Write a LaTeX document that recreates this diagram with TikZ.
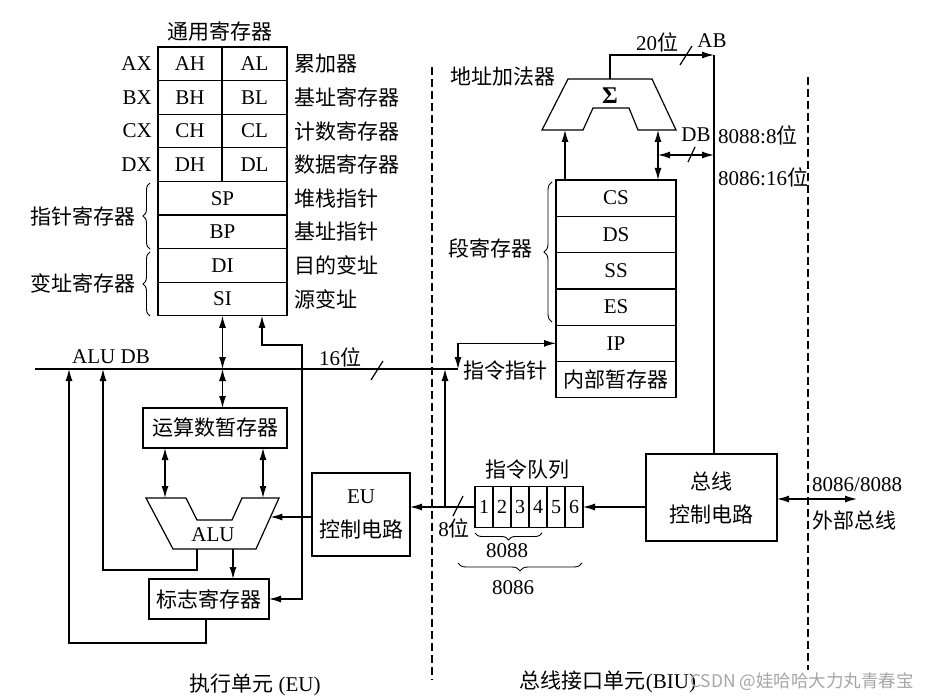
\documentclass[tikz,border=0pt]{standalone}
\usepackage{fontspec}
\setmainfont{Liberation Serif}
\newfontfamily\cjk{Noto Sans CJK SC}
\newcommand{\zh}[1]{{\cjk #1}}
\usetikzlibrary{arrows.meta,decorations.pathreplacing}
\begin{document}
\begin{tikzpicture}[x=1pt,y=-1pt,
  font=\fontsize{21}{24}\selectfont,
  ln/.style={line width=1.2pt},
  arr/.style={ln,-{Latex[length=12pt,width=7pt]}},
  darr/.style={ln,{Latex[length=12pt,width=7pt]}-{Latex[length=12pt,width=7pt]}},
  box/.style={draw,line width=1.2pt,inner sep=0pt,outer sep=0pt},
  cell/.style={box,minimum height=33.6pt},
  scell/.style={box,minimum height=36.3pt,minimum width=120pt},
  qcell/.style={box,minimum height=41pt,minimum width=18pt,font=\fontsize{20}{22}\selectfont},
  lab/.style={inner sep=0pt},
  brc/.style={decorate,decoration={brace,amplitude=#1},line width=0.9pt},
  dashln/.style={line width=1.2pt,dash pattern=on 8pt off 4pt},
  slashln/.style={line width=1.2pt}]
\fill[white] (0,0) rectangle (927,698);
\useasboundingbox (0,0) rectangle (927,698);

% dashed separators
\draw[dashln] (432,67) -- (432,680);
\draw[dashln] (808,77) -- (808,670);

% general registers
\node[lab] (tgen) at (220,32) {\zh{通用寄存器}};
\node[cell,minimum width=64pt] (AH) at (190,63.8) {AH};
\node[cell,minimum width=65pt] (AL) at (254.5,63.8) {AL};
\node[cell,minimum width=64pt] (BH) at (190,97.4) {BH};
\node[cell,minimum width=65pt] (BL) at (254.5,97.4) {BL};
\node[cell,minimum width=64pt] (CH) at (190,131) {CH};
\node[cell,minimum width=65pt] (CL) at (254.5,131) {CL};
\node[cell,minimum width=64pt] (DH) at (190,164.6) {DH};
\node[cell,minimum width=65pt] (DL) at (254.5,164.6) {DL};
\node[cell,minimum width=129pt] (SP) at (222.5,198.2) {SP};
\node[cell,minimum width=129pt] (BP) at (222.5,231.8) {BP};
\node[cell,minimum width=129pt] (DI) at (222.5,265.4) {DI};
\node[cell,minimum width=129pt] (SI) at (222.5,299) {SI};

\node[lab,anchor=east] (lAX) at (152,63.8) {AX};
\node[lab,anchor=east] (lBX) at (152,97.4) {BX};
\node[lab,anchor=east] (lCX) at (152,131) {CX};
\node[lab,anchor=east] (lDX) at (152,164.6) {DX};
\node[lab,anchor=west] (rAX) at (294,63.8) {\zh{累加器}};
\node[lab,anchor=west] (rBX) at (294,97.4) {\zh{基址寄存器}};
\node[lab,anchor=west] (rCX) at (294,131) {\zh{计数寄存器}};
\node[lab,anchor=west] (rDX) at (294,164.6) {\zh{数据寄存器}};
\node[lab,anchor=west] (rSP) at (294,198.2) {\zh{堆栈指针}};
\node[lab,anchor=west] (rBP) at (294,231.8) {\zh{基址指针}};
\node[lab,anchor=west] (rDI) at (294,265.4) {\zh{目的变址}};
\node[lab,anchor=west] (rSI) at (294,299) {\zh{源变址}};

\draw[brc=7pt] (150,249) -- (150,183);
\draw[brc=7pt] (150,316) -- (150,252);
\node[lab,anchor=east] (lptr) at (136,216) {\zh{指针寄存器}};
\node[lab,anchor=east] (lidx) at (136,283) {\zh{变址寄存器}};

% ALU data bus
\coordinate (busL) at (35,369);
\coordinate (busR) at (458,369);
\draw[ln] (busL) -- (busR);
\node[lab] (aludb) at (111,357) {ALU DB};
\node[lab] (b16) at (340,357) {16\zh{位}};
\draw[slashln] (371,380) -- (383,361);

% EU internals
\node[box,minimum width=144pt,minimum height=40pt] (opnd) at (215,428) {\zh{运算数暂存器}};
\node[box,minimum width=120pt,minimum height=40pt] (flag) at (209,599) {\zh{标志寄存器}};
\draw[darr] (SI.south) -- (SI.south |- busL);
\draw[darr] (SI.south |- busL) -- (SI.south |- opnd.north);
\draw[darr] ([xshift=39.5pt]SI.south) |- (302,345) |- (flag.east);

% ALU shape
\coordinate (a1) at (146,498);
\coordinate (a2) at (186,498);
\coordinate (a3) at (197,520);
\coordinate (a4) at (232,520);
\coordinate (a5) at (242,498);
\coordinate (a6) at (279,498);
\coordinate (a7) at (256,549);
\coordinate (a8) at (173,549);
\draw[ln,line join=miter] (a1) -- (a2) -- (a3) -- (a4) -- (a5) -- (a6) -- (a7) -- (a8) -- cycle;
\node[lab] (alu) at (213,535) {ALU};
\draw[darr] (opnd.south -| 165,0) -- (165,498);
\draw[darr] (opnd.south -| 263,0) -- (263,498);
\draw[arr] (233,549) -- (flag.north -| 233,0);
\draw[arr] (197,549) |- (103,570) -- (103,369);
\draw[arr] (flag.south -| 206,0) |- (69,643) -- (69,369);

% EU control
\node[box,minimum width=98pt,minimum height=83pt,align=center,font=\fontsize{21}{34}\selectfont] (euc) at (361,514.5) {EU\\\zh{控制电路}};
\coordinate (aluR) at (270.4,517);
\draw[arr] ([yshift=-2.5pt]euc.west) -- (aluR);

% instruction queue
\node[lab] (tq) at (527,470) {\zh{指令队列}};
\node[qcell] (q1) at (484,507) {1};
\node[qcell] (q2) at (502,507) {2};
\node[qcell] (q3) at (520,507) {3};
\node[qcell] (q4) at (538,507) {4};
\node[qcell] (q5) at (556,507) {5};
\node[qcell] (q6) at (574,507) {6};
\draw[arr] (q1.west) -- (euc.east |- q1.west);
\coordinate (qj) at (445,507);
\draw[arr] (qj) -- (qj |- busL);
\draw[slashln] (453,516) -- (463,496);
\node[lab] (b8) at (454,528) {8\zh{位}};
\draw[brc=7pt] (542,533) -- (475,533);
\node[lab] (l8088) at (507,551) {8088};
\draw[brc=8pt] (582,563) -- (458,563);
\node[lab] (l8086) at (513,588) {8086};

% segment registers
\node[scell] (CS) at (616,198.15) {CS};
\node[scell] (DS) at (616,234.45) {DS};
\node[scell] (SS) at (616,270.75) {SS};
\node[scell] (ES) at (616,307.05) {ES};
\node[scell] (IP) at (616,343.35) {IP};
\node[scell] (tmp) at (616,379.65) {\zh{内部暂存器}};
\draw[brc=8pt] (552,322) -- (552,182);
\node[lab,anchor=east] (lseg) at (533,248) {\zh{段寄存器}};
\node[lab] (lip) at (505,371) {\zh{指令指针}};
\draw[darr] (busR) |- (IP.west);

% address adder
\coordinate (s1) at (568,79);
\coordinate (s2) at (652,79);
\coordinate (s3) at (676,130);
\coordinate (s4) at (638,130);
\coordinate (s5) at (629,108);
\coordinate (s6) at (593,108);
\coordinate (s7) at (583,130);
\coordinate (s8) at (542,130);
\draw[ln,line join=miter] (s1) -- (s2) -- (s3) -- (s4) -- (s5) -- (s6) -- (s7) -- (s8) -- cycle;
\node[lab,font=\fontsize{24}{24}\selectfont\bfseries] (sig) at (610,96) {Σ};
\node[lab] (ladd) at (503,77) {\zh{地址加法器}};
\draw[arr] ([xshift=-51pt]CS.north) -- ++(0,-50);
\draw[darr] ([xshift=42pt]CS.north) -- ++(0,-50);
\coordinate (dbj) at (658,155);
\coordinate (dbR) at (714,155);
\draw[darr] (dbj) -- (dbR);
\draw[slashln] (688,162) -- (695,147);
\node[lab] (ldb) at (696,135) {DB};
\node[lab,anchor=west] (l88) at (718,135) {8088:8\zh{位}};
\node[lab,anchor=west] (l86) at (718,177) {8086:16\zh{位}};

% bus control
\node[box,minimum width=131pt,minimum height=87pt,align=center,font=\fontsize{21}{33}\selectfont] (bctl) at (711.5,497.5) {\zh{总线}\\\zh{控制电路}};
\coordinate (abR) at (714,55);
\draw[arr] (610,79) |- (abR);
\draw[ln] (abR) -- (abR |- bctl.north);
\draw[slashln] (680,65) -- (692,46);
\node[lab] (l20) at (657,42) {20\zh{位}};
\node[lab] (lab) at (712,41) {AB};
\draw[arr] (bctl.west |- q6.east) -- (q6.east);
\draw[darr] ([yshift=-1.5pt]bctl.east) -- ++(80,0);
\node[lab,anchor=west] (lext1) at (812,485) {8086/8088};
\node[lab,anchor=west] (lext2) at (812,520) {\zh{外部总线}};

% bottom labels
\node[lab] (leu) at (255,685) {\zh{执行单元} (EU)};
\node[lab] (lbiu) at (608,682) {\zh{总线接口单元}(BIU)};
\node[lab,anchor=east,text=gray!70,font=\cjk\fontsize{17.5}{20}\selectfont] (wm) at (914,682) {CSDN @娃哈哈大力丸青春宝};
\end{tikzpicture}
\end{document}
